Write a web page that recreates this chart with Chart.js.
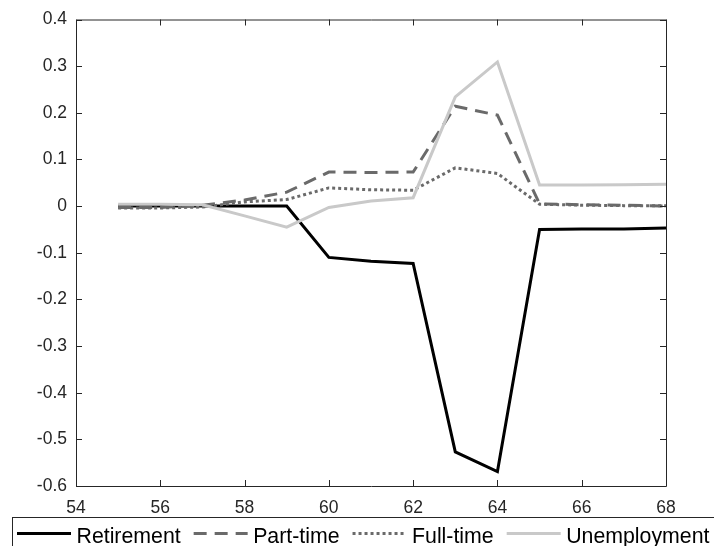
<!DOCTYPE html>
<html>
<head>
<meta charset="utf-8">
<script src="https://cdn.jsdelivr.net/npm/chart.js@4.4.1/dist/chart.umd.min.js"></script>
<style>
  html, body { margin: 0; padding: 0; background: #fff; }
  #wrap { width: 714px; height: 546px; }
</style>
</head>
<body>
<div id="wrap"><canvas id="effects" width="714" height="546"></canvas></div>
<script>
// Age on the x axis
const ages = [55, 56, 57, 58, 59, 60, 61, 62, 63, 64, 65, 66, 67, 68];

// Effect on each labour market state, by age
const retirement   = [0, 0, 0, 0, 0, -0.110, -0.118, -0.123, -0.527, -0.569, -0.050, -0.049, -0.049, -0.047];
const partTime     = [-0.003, -0.003, 0.002, 0.013, 0.030, 0.073, 0.072, 0.073, 0.214, 0.195, 0.005, 0.003, 0.002, 0.000];
const fullTime     = [-0.004, -0.004, -0.002, 0.009, 0.014, 0.039, 0.035, 0.034, 0.082, 0.070, 0.004, 0.002, 0.001, 0.001];
const unemployment = [0.004, 0.004, 0.003, -0.021, -0.045, -0.003, 0.011, 0.018, 0.234, 0.309, 0.045, 0.045, 0.046, 0.047];

const seriesNames = ["Retirement", "Part-time", "Full-time", "Unemployment"];
const xTicks = [54, 56, 58, 60, 62, 64, 66, 68];
const yTicks = [0.4, 0.3, 0.2, 0.1, 0, -0.1, -0.2, -0.3, -0.4, -0.5, -0.6];

const axisColor = "#262626";
const tickFont = { family: "'Liberation Sans', Arial, sans-serif", size: 17.5 };
const legendFont = "21.3px 'Liberation Sans', Arial, sans-serif";

const toPoints = (ys) => ys.map((y, i) => ({ x: ages[i], y: y }));

const styles = [
    { color: "#000000", dash: [] },
    { color: "#6a6a6a", dash: [13, 8] },
    { color: "#6a6a6a", dash: [3, 3] },
    { color: "#c9c9c9", dash: [] }
];

const datasets = [retirement, partTime, fullTime, unemployment].map((ys, i) => ({
    label: seriesNames[i],
    data: toPoints(ys),
    borderColor: styles[i].color,
    borderDash: styles[i].dash,
    borderWidth: 3,
    borderCapStyle: "butt",
    borderJoinStyle: "miter",
    pointRadius: 0,
    tension: 0,
    fill: false,
    // later series sit on top
    order: 3 - i
}));

// box around the plot with inward ticks on every side
const axesBox = {
    id: "axesBox",
    afterDatasetsDraw(chart) {
        const { ctx, chartArea: a, scales: { x, y } } = chart;
        const len = 6;
        ctx.save();
        ctx.strokeStyle = axisColor;
        ctx.lineWidth = 1;
        ctx.beginPath();
        ctx.rect(a.left + 0.5, a.top + 0.5, a.right - a.left, a.bottom - a.top);
        x.ticks.forEach(t => {
            const px = Math.round(x.getPixelForValue(t.value)) + 0.5;
            ctx.moveTo(px, a.bottom); ctx.lineTo(px, a.bottom - len);
            ctx.moveTo(px, a.top); ctx.lineTo(px, a.top + len);
        });
        y.ticks.forEach(t => {
            const py = Math.round(y.getPixelForValue(t.value)) + 0.5;
            ctx.moveTo(a.left, py); ctx.lineTo(a.left + len, py);
            ctx.moveTo(a.right, py); ctx.lineTo(a.right - len, py);
        });
        ctx.stroke();
        ctx.restore();
    }
};

// legend in one row along the bottom edge
const bottomLegend = {
    id: "bottomLegend",
    afterDraw(chart) {
        const { ctx } = chart;
        const lineY = 533.5;
        const sample = 54;
        ctx.save();
        ctx.strokeStyle = axisColor;
        ctx.lineWidth = 1;
        ctx.strokeRect(12.5, 517.5, 720, 40);

        ctx.font = legendFont;
        ctx.textBaseline = "alphabetic";
        ctx.textAlign = "left";
        let xPos = 17;
        chart.data.datasets.forEach(ds => {
            ctx.save();
            ctx.strokeStyle = ds.borderColor;
            ctx.lineWidth = ds.borderWidth;
            ctx.setLineDash(ds.borderDash);
            ctx.beginPath();
            ctx.moveTo(xPos, lineY);
            ctx.lineTo(xPos + sample, lineY);
            ctx.stroke();
            ctx.restore();
            const tx = xPos + sample + 5.5;
            ctx.fillStyle = "#000";
            ctx.fillText(ds.label, tx, 543);
            xPos = tx + ctx.measureText(ds.label).width + 13;
        });
        ctx.restore();
    }
};

new Chart(document.getElementById("effects"), {
    type: "line",
    data: { datasets: datasets },
    options: {
        responsive: false,
        animation: false,
        events: [],
        layout: { padding: { left: 0, top: 19, right: 48, bottom: 29 } },
        plugins: {
            legend: { display: false },
            tooltip: { enabled: false }
        },
        scales: {
            x: {
                type: "linear",
                min: 54,
                max: 68,
                afterBuildTicks: (scale) => { scale.ticks = xTicks.map(v => ({ value: v })); },
                afterFit: (scale) => { scale.height = 31; },
                grid: { display: false, drawTicks: false },
                border: { display: false },
                ticks: {
                    font: tickFont,
                    color: axisColor,
                    padding: 12,
                    maxRotation: 0,
                    callback: (v) => String(v)
                }
            },
            y: {
                type: "linear",
                min: -0.6,
                max: 0.4,
                afterBuildTicks: (scale) => { scale.ticks = yTicks.map(v => ({ value: v })); },
                afterFit: (scale) => { scale.width = 76; },
                grid: { display: false, drawTicks: false },
                border: { display: false },
                ticks: {
                    font: tickFont,
                    color: axisColor,
                    padding: 9,
                    callback: (v) => String(Math.round(v * 10) / 10)
                }
            }
        }
    },
    plugins: [axesBox, bottomLegend]
});
</script>
</body>
</html>
